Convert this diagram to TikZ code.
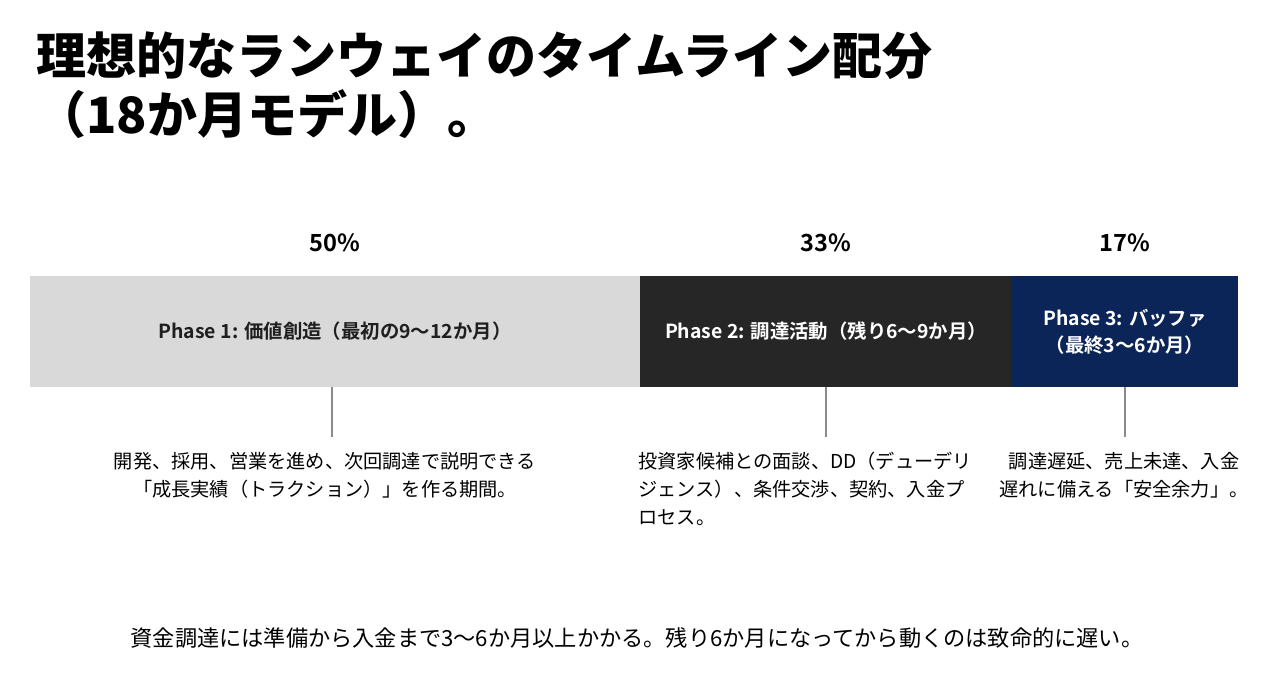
\documentclass[tikz,border=0pt]{standalone}
\usepackage{fontspec}
\setmainfont{Noto Sans CJK JP}[BoldFont={Noto Sans CJK JP Bold}]
\newfontfamily\heavyfont{Noto Sans CJK JP Black}
\definecolor{phaseone}{HTML}{D9D9D9}
\definecolor{phasetwo}{HTML}{262626}
\definecolor{phasethree}{HTML}{0C2558}
\definecolor{tickgray}{HTML}{8A8A8A}
\usetikzlibrary{positioning}

\begin{document}
\begin{tikzpicture}
      [x=0.5pt,y=-0.5pt,
       title/.style={anchor=north west,align=left,inner sep=0pt,font=\heavyfont\fontsize{25}{29.5}\selectfont},
       pct/.style={font=\bfseries\fontsize{11.8}{13}\selectfont},
       seg/.style={rectangle,minimum height=55.5pt,inner sep=0pt,align=center,font=\bfseries\fontsize{9.7}{13.5}\selectfont},
       desc/.style={anchor=north,inner sep=0pt,font=\fontsize{9.6}{13.8}\selectfont},
       tick/.style={draw=tickgray,line width=0.6pt}]
        \useasboundingbox (0,0) rectangle (1280,690);

        \node[title] (ttl) at (36,31) {理想的なランウェイのタイムライン配分\\（18か月モデル）。};

        \node[seg,fill=phaseone,text=black!88,minimum width=305pt] (seg1) at (335,331.5) {Phase 1: 価値創造（最初の9〜12か月）};
        \node[seg,fill=phasetwo,text=white,minimum width=186pt] (seg2) at (826,331.5) {Phase 2: 調達活動（残り6〜9か月）};
        \node[seg,fill=phasethree,text=white,minimum width=113pt] (seg3) at (1125,331.5) {Phase 3: バッファ\\（最終3〜6か月）};

        \node[pct] (p1) at (335,243) {50\%};
        \node[pct] (p2) at (826,243) {33\%};
        \node[pct] (p3) at (1125,243) {17\%};

        \coordinate (end1) at (332,437);
        \coordinate (end2) at (826,437);
        \coordinate (end3) at (1125,437);
        \draw[tick] (seg1.south -| end1) -- (end1);
        \draw[tick] (seg2.south) -- (end2);
        \draw[tick] (seg3.south) -- (end3);

        \node[desc,align=center] (desc1) at (325,452) {開発、採用、営業を進め、次回調達で説明できる\\「成長実績（トラクション）」を作る期間。};
        \node[desc,align=left,anchor=north west] (desc2) at (638,452) {投資家候補との面談、DD（デューデリ\\ジェンス）、条件交渉、契約、入金プ\\ロセス。};
        \node[desc,align=center] (desc3) at (1124,452) {調達遅延、売上未達、入金\\遅れに備える「安全余力」。};

        \node[font=\fontsize{11.1}{13}\selectfont] (note) at (637,638) {資金調達には準備から入金まで3〜6か月以上かかる。残り6か月になってから動くのは致命的に遅い。};

      \end{tikzpicture}
\end{document}
